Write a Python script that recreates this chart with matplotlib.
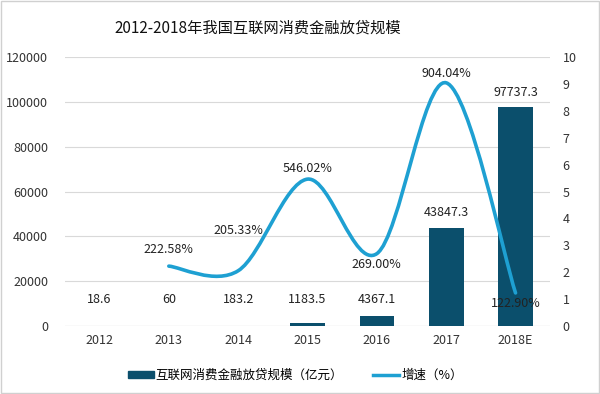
import numpy as np
import matplotlib
matplotlib.use("Agg")
import matplotlib.pyplot as plt
from matplotlib.path import Path
from matplotlib.patches import PathPatch, Rectangle
from matplotlib.lines import Line2D
from matplotlib.patches import Patch

plt.rcParams['font.family'] = ['Noto Sans CJK SC', 'DejaVu Sans']

# data
years = ['2012', '2013', '2014', '2015', '2016', '2017', '2018E']
loans = [18.6, 60, 183.2, 1183.5, 4367.1, 43847.3, 97737.3]
loan_labels = ['18.6', '60', '183.2', '1183.5', '4367.1', '43847.3', '97737.3']
growth_years = [1, 2, 3, 4, 5, 6]  # index into years, 2013..2018E
growth = [2.2258, 2.0533, 5.4602, 2.69, 9.0404, 1.229]
growth_labels = ['222.58%', '205.33%', '546.02%', '269.00%', '904.04%', '122.90%']

bar_color = '#0b4f6c'
line_color = '#1ea0d2'

fig = plt.figure(figsize=(6, 3.94), dpi=100)
ax = fig.add_axes([0.108, 0.1726, 0.809, 0.6827])
ax2 = ax.twinx()

x = np.arange(len(years))
ax.bar(x, loans, width=0.5, color=bar_color, zorder=2)
ax.set_xlim(-0.5, len(years) - 0.5)
ax.set_ylim(0, 120000)
ax.set_yticks(np.arange(0, 120001, 20000))
ax.set_xticks(x)
ax.set_xticklabels(years)
ax.grid(axis='y', color='#d9d9d9', linewidth=0.8, zorder=0)
ax.set_axisbelow(True)
for s in ax.spines.values():
    s.set_visible(False)
for s in ax2.spines.values():
    s.set_visible(False)
ax.axhline(0, color='#d0d0d0', linewidth=0.8, zorder=1)
ax.tick_params(axis='both', length=0, labelsize=9, colors='#333333')
ax.tick_params(axis='y', pad=12)
ax.tick_params(axis='x', pad=6)

# bar value labels (small bars get a floor so the text sits above the axis)
for i, (v, lab) in enumerate(zip(loans, loan_labels)):
    yy = max(v, 5000)
    ax.annotate(lab, (i, yy), xytext=(0, 6), textcoords='offset points',
                ha='center', va='bottom', fontsize=9, color='#222222')

# smoothed growth line (Catmull-Rom style bezier, like the office "smooth line")
ax2.set_ylim(0, 10)
ax2.set_yticks(range(0, 11))
ax2.tick_params(axis='y', length=0, labelsize=9, colors='#333333', pad=9)
pts = np.column_stack([growth_years, growth]).astype(float)
verts = [pts[0]]
codes = [Path.MOVETO]
n = len(pts)
for i in range(n - 1):
    p0 = pts[max(i - 1, 0)]
    p1 = pts[i]
    p2 = pts[i + 1]
    p3 = pts[min(i + 2, n - 1)]
    c1 = p1 + (p2 - p0) / 6.0
    c2 = p2 - (p3 - p1) / 6.0
    verts += [c1, c2, p2]
    codes += [Path.CURVE4] * 3
ax2.add_patch(PathPatch(Path(verts, codes), facecolor='none',
                        edgecolor=line_color, linewidth=2.6, zorder=3,
                        capstyle='round'))

offsets = [(0, 7), (0, 24), (0, 3), (0, -3), (0, 2), (0, -3)]
for gx, gv, lab, off in zip(growth_years, growth, growth_labels, offsets):
    ax2.annotate(lab, (gx, gv), xytext=off, textcoords='offset points',
                 ha='center', va='bottom' if off[1] > 0 else 'top',
                 fontsize=9, color='#222222', zorder=4)

fig.text(0.43, 0.928, '2012-2018年我国互联网消费金融放贷规模', ha='center',
         va='center', fontsize=11, color='#111111')

handles = [Patch(color=bar_color), Line2D([], [], color=line_color, linewidth=2.5)]
fig.legend(handles, ['互联网消费金融放贷规模（亿元）', '增速（%）'],
           loc='center', bbox_to_anchor=(0.492, 0.048), ncol=2, frameon=False,
           fontsize=9, handlelength=2.1, handleheight=0.5, columnspacing=2.4,
           handletextpad=0.15)

fig.patches.append(Rectangle((0.002, 0.002), 0.996, 0.996, transform=fig.transFigure,
                             fill=False, edgecolor='#d0d0d0', linewidth=1))

fig.savefig('out.png', dpi=100)
